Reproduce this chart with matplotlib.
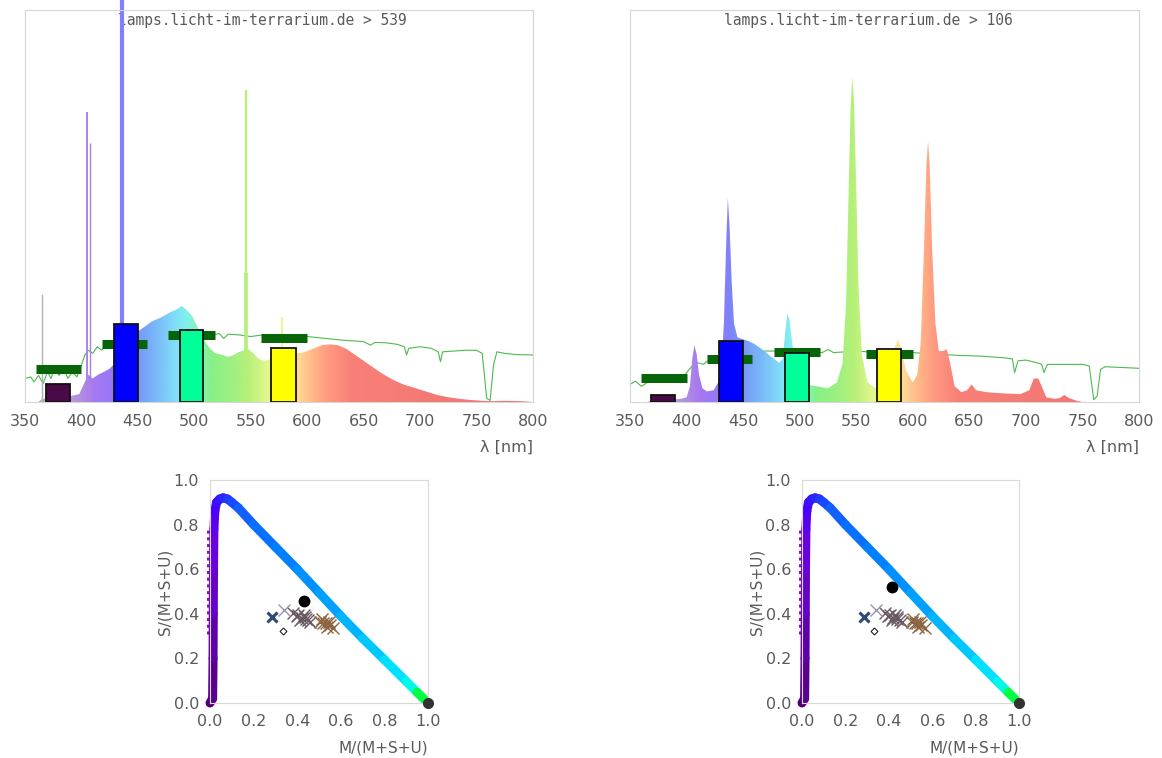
import numpy as np
import matplotlib.pyplot as plt
from matplotlib.colors import LinearSegmentedColormap, Normalize
from matplotlib.collections import LineCollection

# ---- lamp 539 : continuum + sharp lines ----
wl_539 = [350, 362, 365, 370, 380, 390, 398, 402, 406, 410, 415, 420, 425, 430,
          435, 440, 445, 450, 455, 462, 470, 478, 485, 489, 493, 498, 503, 508,
          513, 518, 525, 530, 535, 540, 544, 548, 552, 557, 562, 568, 575, 580,
          588, 595, 600, 607, 613, 620, 627, 635, 645, 655, 665, 675, 685, 695,
          705, 715, 725, 735, 745, 755, 765, 775, 790, 800]
val_539 = [0, 0, 0.008, 0.01, 0.012, 0.015, 0.02, 0.045, 0.07, 0.06, 0.07, 0.077,
           0.085, 0.10, 0.13, 0.16, 0.17, 0.18, 0.19, 0.205, 0.215, 0.228, 0.237,
           0.245, 0.235, 0.22, 0.19, 0.16, 0.14, 0.125, 0.12, 0.115, 0.12, 0.128,
           0.132, 0.135, 0.125, 0.11, 0.105, 0.11, 0.125, 0.128, 0.125, 0.125,
           0.13, 0.138, 0.145, 0.147, 0.145, 0.135, 0.115, 0.095, 0.075, 0.058,
           0.045, 0.036, 0.027, 0.018, 0.012, 0.008, 0.005, 0.003, 0.002, 0.003,
           0.002, 0]
spike_wl_539 = [365, 405, 407.5, 436, 546, 546, 578]
spike_h_539 = [0.275, 0.74, 0.66, 1.03, 0.795, 0.33, 0.218]
spike_lw = [1.0, 1.4, 1.0, 3.0, 1.6, 2.6, 1.6]

ref_wl_539 = [350, 355, 358, 362, 366, 370, 373, 376, 380, 385, 388, 392, 396, 400,
              403, 406, 410, 414, 418, 422, 428, 435, 445, 455, 465, 475, 485, 495,
              505, 515, 522, 526, 530, 540, 550, 560, 570, 580, 590, 600, 610, 620,
              630, 640, 650, 656, 660, 670, 680, 686, 688, 690, 700, 710, 716, 718,
              720, 730, 740, 750, 755, 759, 762, 765, 768, 775, 785, 800]
ref_val_539 = [0.060, 0.064, 0.051, 0.068, 0.047, 0.077, 0.060, 0.085, 0.068, 0.081,
               0.060, 0.077, 0.064, 0.094, 0.120, 0.132, 0.124, 0.141, 0.132, 0.150,
               0.145, 0.154, 0.158, 0.162, 0.167, 0.171, 0.173, 0.171, 0.175, 0.169,
               0.175, 0.162, 0.173, 0.171, 0.167, 0.171, 0.169, 0.171, 0.167, 0.167,
               0.164, 0.161, 0.158, 0.156, 0.154, 0.145, 0.152, 0.151, 0.147, 0.141,
               0.120, 0.137, 0.141, 0.137, 0.128, 0.103, 0.128, 0.130, 0.132, 0.132,
               0.124, 0.009, 0.004, 0.094, 0.128, 0.124, 0.121, 0.120]

# ---- lamp 106 : triphosphor peaks ----
wl_106 = [350, 365, 368, 380, 395, 400, 403, 405, 407, 409, 411, 414, 418, 424, 428,
          431, 433, 435, 436.5, 438, 440, 442, 445, 450, 455, 460, 468, 475, 482,
          485, 487, 489, 491, 493, 496, 500, 505, 515, 525, 533, 538, 541, 543, 545,
          546.5, 548, 550, 552, 555, 560, 567, 575, 580, 584, 587, 590, 594, 600,
          604, 607, 610, 612, 613.5, 615, 617, 620, 623, 627, 630, 633, 637, 643,
          648, 652, 656, 665, 680, 695, 703, 707, 711, 714, 718, 725, 730, 734, 738,
          745, 750, 800]
val_106 = [0, 0, 0.003, 0.005, 0.008, 0.012, 0.04, 0.11, 0.145, 0.12, 0.07, 0.035,
           0.027, 0.03, 0.05, 0.1, 0.2, 0.4, 0.52, 0.45, 0.3, 0.2, 0.165, 0.16, 0.155,
           0.148, 0.132, 0.115, 0.1, 0.11, 0.17, 0.225, 0.21, 0.16, 0.09, 0.055, 0.045,
           0.04, 0.035, 0.05, 0.1, 0.25, 0.5, 0.75, 0.83, 0.77, 0.55, 0.3, 0.12, 0.05,
           0.035, 0.05, 0.09, 0.14, 0.16, 0.13, 0.08, 0.05, 0.07, 0.15, 0.4, 0.6, 0.666,
           0.6, 0.4, 0.2, 0.13, 0.13, 0.135, 0.1, 0.04, 0.025, 0.03, 0.045, 0.03, 0.025,
           0.022, 0.02, 0.03, 0.06, 0.06, 0.04, 0.012, 0.008, 0.01, 0.018, 0.01, 0.003,
           0, 0]

ref_wl_106 = [350, 355, 360, 365, 370, 375, 380, 385, 390, 395, 400, 405, 410, 415,
              420, 430, 440, 450, 460, 470, 480, 490, 500, 510, 520, 525, 530, 540,
              550, 560, 580, 600, 620, 640, 660, 680, 688, 690, 693, 700, 710, 714,
              716, 719, 730, 750, 756, 760, 763, 766, 770, 785, 800]
ref_val_106 = [0.045, 0.053, 0.040, 0.049, 0.066, 0.057, 0.070, 0.053, 0.066, 0.049,
               0.075, 0.092, 0.100, 0.096, 0.109, 0.117, 0.121, 0.126, 0.128, 0.130,
               0.130, 0.132, 0.130, 0.128, 0.126, 0.134, 0.126, 0.128, 0.130, 0.128,
               0.126, 0.126, 0.122, 0.119, 0.117, 0.113, 0.110, 0.075, 0.105, 0.107,
               0.100, 0.096, 0.075, 0.096, 0.096, 0.096, 0.092, 0.006, 0.015, 0.083,
               0.090, 0.088, 0.086]

# receptor boxes and dark green bands
box_lo = [369, 429, 487, 568]
box_hi = [390, 450, 508, 590]
box_colors = ['#4a0a48', '#0000ff', '#00ff99', '#ffff00']
box_h_539 = [0.045, 0.198, 0.184, 0.139]
box_h_106 = [0.019, 0.156, 0.126, 0.135]
band_lo = [360, 418, 477, 559]
band_hi = [400, 458, 518, 600]
band_y_539 = [0.085, 0.147, 0.171, 0.164]
band_y_106 = [0.062, 0.110, 0.128, 0.122]

# ---- colour triangle ----
locus_x = [0.0, 0.012, 0.014, 0.015, 0.016, 0.018, 0.022, 0.03, 0.045, 0.06, 0.08,
           0.1, 0.13, 0.2, 0.3, 0.4, 0.5, 0.6, 0.7, 0.8, 0.9, 0.95, 1.0]
locus_y = [0.0, 0.02, 0.2, 0.4, 0.6, 0.78, 0.86, 0.9, 0.915, 0.92, 0.915, 0.9, 0.875,
           0.8, 0.7, 0.6, 0.495, 0.39, 0.29, 0.194, 0.097, 0.048, 0.0]
locus_colors = ['#4b0055', '#50006a', '#5a0090', '#6000a8', '#6800c8', '#6a00e0',
                '#5a00f0', '#4800ff', '#3a10ff', '#3018ff', '#2828ff', '#2038ff',
                '#1848ff', '#1060ff', '#0870ff', '#0080ff', '#0090ff', '#00a0ff',
                '#00b4ff', '#00c8ff', '#00e0ff', '#00f8e8', '#00ff40']

gray_x = [0.382, 0.397, 0.405, 0.42, 0.436, 0.451, 0.415, 0.43, 0.46, 0.44]
gray_y = [0.402, 0.39, 0.395, 0.38, 0.384, 0.372, 0.372, 0.395, 0.365, 0.378]
brown_x = [0.505, 0.512, 0.52, 0.535, 0.55, 0.566, 0.53, 0.545]
brown_y = [0.365, 0.375, 0.357, 0.342, 0.35, 0.335, 0.36, 0.365]
black_dot_539 = (0.433, 0.456)
black_dot_106 = (0.414, 0.522)

spec_stops = [(350, '#b8b0b8'), (380, '#b8a8c8'), (398, '#b090e0'), (410, '#a878f0'),
              (425, '#9878f8'), (436, '#8080f8'), (450, '#7898f8'), (465, '#78b8f8'),
              (480, '#80d8f8'), (492, '#80f0f0'), (503, '#80f8b8'), (515, '#88f088'),
              (535, '#a0f080'), (548, '#b8f078'), (565, '#e0f890'), (580, '#f8f0a0'),
              (592, '#ffd898'), (605, '#ffb888'), (620, '#ff9880'), (640, '#f88078'),
              (800, '#f07070')]
spec_cmap = LinearSegmentedColormap.from_list(
    'spec', [((w - 350) / 450, c) for w, c in spec_stops])
wl_norm = Normalize(350, 800)

GRAY = '#5a5a5a'


def draw_spectrum(ax, wl, val, ref_wl, ref_val, box_h, band_y, label,
                  spikes=None):
    ax.plot(ref_wl, ref_val, color='#4cbb4c', lw=0.8, zorder=1)
    poly = ax.fill(np.r_[wl[0], wl, wl[-1]], np.r_[0, val, 0],
                   facecolor='none', edgecolor='none')[0]
    grad = np.linspace(350, 800, 900)[None, :]
    im = ax.imshow(grad, extent=[350, 800, 0, 1.05], aspect='auto',
                   cmap=spec_cmap, norm=wl_norm, origin='lower', zorder=2)
    im.set_clip_path(poly)
    if spikes is not None:
        sw, sh = spikes
        ax.vlines(sw, 0, sh, colors=spec_cmap(wl_norm(np.array(sw))),
                  linewidths=spike_lw, clip_on=False, zorder=2.5)
    ax.hlines(band_y, band_lo, band_hi, colors='#086408', lw=6.5, zorder=3)
    ax.bar(box_lo, box_h, width=np.array(box_hi) - np.array(box_lo),
           align='edge', color=box_colors, edgecolor='#111111', lw=1.3,
           zorder=4)
    ax.text(0.184, 0.974, label, transform=ax.transAxes,
            family='DejaVu Sans Mono', size=10.5, color=GRAY,
            ha='left', va='center', zorder=1.8)
    ax.text(1.0, -0.115, 'λ [nm]', transform=ax.transAxes, ha='right',
            va='center', size=11.5, color=GRAY)
    ax.set_xlim(350, 800)
    ax.set_ylim(0, 1)
    ax.set_xticks(range(350, 801, 50))
    ax.set_yticks([])
    ax.tick_params(axis='x', length=0, pad=9, labelsize=11.5, labelcolor=GRAY)
    for s in ax.spines.values():
        s.set_color('#d6d6d6')


def draw_triangle(ax, dot):
    pts = np.column_stack([locus_x, locus_y])
    segs = np.stack([pts[:-1], pts[1:]], axis=1)
    lc = LineCollection(segs, colors=locus_colors[1:], linewidths=6.5,
                        capstyle='round', joinstyle='round', clip_on=False,
                        zorder=2)
    ax.add_collection(lc)
    ax.plot([-0.008, -0.008], [0.31, 0.78], color='#7020d0', lw=2.2,
            dashes=(1, 1.2), clip_on=False, zorder=1.5)
    ax.plot(locus_x[-1], locus_y[-1], 'o', color='#333333', ms=7,
            clip_on=False, zorder=3)
    ax.plot(gray_x, gray_y, 'x', color='#6a5a62', ms=8, mew=1.0, zorder=3)
    ax.plot(brown_x, brown_y, 'x', color='#8e6440', ms=8, mew=1.0, zorder=3)
    ax.plot(0.339, 0.417, 'x', color='#9c94b4', ms=8, mew=1.0, zorder=3)
    ax.plot(0.286, 0.384, 'x', color='#2e4a7a', ms=7.5, mew=2.2, zorder=3)
    ax.plot(0.333, 0.324, 'D', mfc='white', mec='#222222', ms=3.5, mew=0.8,
            zorder=3)
    ax.plot(dot[0], dot[1], 'o', color='black', ms=7.5, zorder=4)
    ax.set_xlim(0, 1)
    ax.set_ylim(0, 1)
    ticks = [0, 0.2, 0.4, 0.6, 0.8, 1.0]
    ax.set_xticks(ticks)
    ax.set_yticks(ticks)
    ax.set_xticklabels([f'{t:.1f}' for t in ticks])
    ax.set_yticklabels([f'{t:.1f}' for t in ticks])
    ax.tick_params(length=0, pad=8, labelsize=11.5, labelcolor=GRAY)
    for s in ax.spines.values():
        s.set_color('#d9d9d9')
    ax.text(1.0, -0.2, 'M/(M+S+U)', transform=ax.transAxes, ha='right',
            va='center', size=11, color=GRAY)
    ax.text(-0.206, 0.5, 'S/(M+S+U)', transform=ax.transAxes, ha='center',
            va='center', rotation=90, size=11, color=GRAY)


fig = plt.figure(figsize=(11.62, 7.58), dpi=100)
W, H = 1162, 758

ax1 = fig.add_axes([25 / W, (H - 402) / H, 508 / W, 392 / H])
draw_spectrum(ax1, wl_539, val_539, ref_wl_539, ref_val_539, box_h_539,
              band_y_539, 'lamps.licht-im-terrarium.de > 539',
              spikes=(spike_wl_539, spike_h_539))

ax2 = fig.add_axes([630 / W, (H - 402) / H, 509 / W, 392 / H])
draw_spectrum(ax2, wl_106, val_106, ref_wl_106, ref_val_106, box_h_106,
              band_y_106, 'lamps.licht-im-terrarium.de > 106')

ax3 = fig.add_axes([210 / W, (H - 703) / H, 218 / W, 223 / H])
draw_triangle(ax3, black_dot_539)

ax4 = fig.add_axes([802 / W, (H - 703) / H, 217 / W, 223 / H])
draw_triangle(ax4, black_dot_106)

fig.savefig('out.png', dpi=100)
